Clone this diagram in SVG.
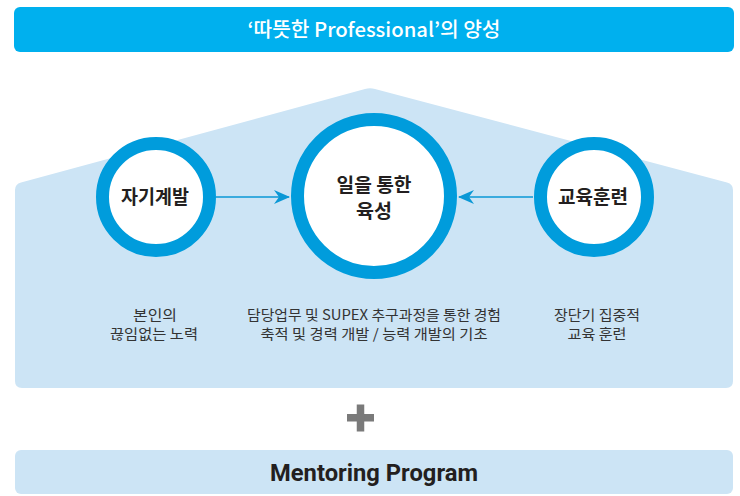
<svg xmlns="http://www.w3.org/2000/svg" width="740" height="496" viewBox="0 0 740 496">
<defs>
<style>
.ring{fill:#fff;stroke:#009cdc;stroke-width:13}
.lbl{font-family:"Noto Sans CJK KR","Noto Sans",sans-serif;font-weight:700;font-size:19px;fill:#231f20;text-anchor:middle}
.desc{font-family:"Noto Sans CJK KR","Noto Sans",sans-serif;font-size:14px;fill:#333;text-anchor:middle}
.conn{stroke:#0a98d6;stroke-width:1.6;fill:none}
</style>
<marker id="ah" viewBox="0 0 16 14" refX="15" refY="7" markerWidth="16" markerHeight="14" markerUnits="userSpaceOnUse" orient="auto">
<path d="M0,0 L16,7 L0,14 L5,7 Z" fill="#0a98d6"/>
</marker>
</defs>
<rect width="740" height="496" fill="#fff"/>
<g id="title">
<rect x="14" y="7" width="720" height="45" rx="6" fill="#00b0ee"/>
<text x="374" y="37" font-family="&quot;Noto Sans CJK KR&quot;,sans-serif" font-size="20" font-weight="500" fill="#fff" text-anchor="middle" textLength="253" lengthAdjust="spacingAndGlyphs">‘따뜻한 Professional’의 양성</text>
</g>
<g id="house">
<path d="M15,190 Q15,184 21,182.5 L365,89 Q370,87.5 375,89 L727,182.5 Q733,184 733,190 L733,381 Q733,388 726,388 L22,388 Q15,388 15,381 Z" fill="#cce4f5"/>
</g>
<g id="connectors">
<line class="conn" x1="216" y1="197" x2="289" y2="197" marker-end="url(#ah)"/>
<line class="conn" x1="533" y1="197" x2="459" y2="197" marker-end="url(#ah)"/>
</g>
<g id="self-dev">
<circle class="ring" cx="156" cy="197" r="53.5"/>
<text class="lbl" x="155" y="204" textLength="68" lengthAdjust="spacingAndGlyphs">자기계발</text>
<text class="desc" x="155" y="320" textLength="44" lengthAdjust="spacingAndGlyphs">본인의</text>
<text class="desc" x="154" y="339" textLength="88" lengthAdjust="spacingAndGlyphs">끊임없는 노력</text>
</g>
<g id="work">
<circle class="ring" cx="374" cy="196" r="76.5"/>
<text class="lbl" x="374" y="192" font-size="18" textLength="75" lengthAdjust="spacingAndGlyphs">일을 통한</text>
<text class="lbl" x="374" y="218" font-size="18" textLength="36" lengthAdjust="spacingAndGlyphs">육성</text>
<text class="desc" x="374" y="320" textLength="254" lengthAdjust="spacingAndGlyphs">담당업무 및 SUPEX 추구과정을 통한 경험</text>
<text class="desc" x="374" y="339" textLength="227" lengthAdjust="spacingAndGlyphs">축적 및 경력 개발 / 능력 개발의 기초</text>
</g>
<g id="training">
<circle class="ring" cx="594" cy="197" r="53.5"/>
<text class="lbl" x="593" y="204" textLength="70" lengthAdjust="spacingAndGlyphs">교육훈련</text>
<text class="desc" x="597" y="320" textLength="86" lengthAdjust="spacingAndGlyphs">장단기 집중적</text>
<text class="desc" x="597" y="339" textLength="59" lengthAdjust="spacingAndGlyphs">교육 훈련</text>
</g>
<g id="plus">
<rect x="347" y="414" width="27" height="7.5" fill="#7a7a7a"/>
<rect x="356.75" y="404.5" width="7.5" height="27" fill="#7a7a7a"/>
</g>
<g id="mentoring">
<rect x="15" y="450" width="718" height="44" rx="6" fill="#cce4f5"/>
<text x="374" y="481" font-family="Roboto,&quot;Liberation Sans&quot;,sans-serif" font-size="23" font-weight="700" fill="#231f20" text-anchor="middle" textLength="208" lengthAdjust="spacingAndGlyphs">Mentoring Program</text>
</g>
</svg>
